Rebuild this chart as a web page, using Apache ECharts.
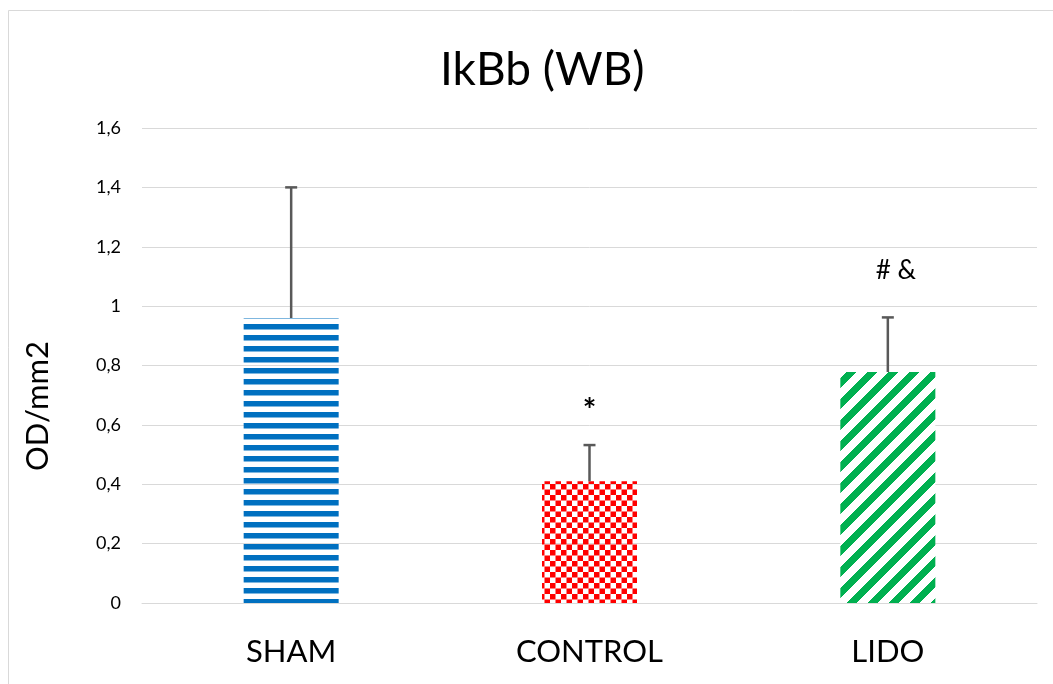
<!DOCTYPE html>
<html>
<head>
<meta charset="utf-8">
<script src="https://cdn.jsdelivr.net/npm/echarts@6/dist/echarts.min.js"></script>
<style>
  html, body { margin: 0; padding: 0; background: #fff; }
  #chart { width: 1053px; height: 684px; }
</style>
</head>
<body>
<div id="chart"></div>
<script>
// Groups, means and upper error (mean + SD)
const categories = ['SHAM', 'CONTROL', 'LIDO'];
const means = [0.96, 0.41, 0.778];
const upperErrors = [1.40, 0.532, 0.962];
// Significance marks and the level they sit at
const marks = ['', '*', '# &'];
const markLevels = [null, 0.66, 1.12];
const yTicks = [0, 0.2, 0.4, 0.6, 0.8, 1.0, 1.2, 1.4, 1.6];

const FONT = 'Lato, "Open Sans", sans-serif';

// Fill patterns for the bars
function stripesPattern(color) {
  const c = document.createElement('canvas');
  c.width = 11; c.height = 11;
  const g = c.getContext('2d');
  g.fillStyle = color;
  g.fillRect(0, 5, 11, 5.5);
  return c;
}
function checkerPattern(color) {
  const c = document.createElement('canvas');
  c.width = 11; c.height = 11;
  const g = c.getContext('2d');
  g.fillStyle = color;
  g.fillRect(0, 0, 5.5, 5.5);
  g.fillRect(5.5, 5.5, 5.5, 5.5);
  return c;
}
function diagonalPattern(r, gr, b) {
  const P = 21, W = 10;
  const c = document.createElement('canvas');
  c.width = P; c.height = P;
  const g = c.getContext('2d');
  const img = g.createImageData(P, P);
  for (let y = 0; y < P; y++) {
    for (let x = 0; x < P; x++) {
      const t = (x + y) % P;
      const i = (y * P + x) * 4;
      if (t < W) {
        img.data[i] = r; img.data[i + 1] = gr; img.data[i + 2] = b; img.data[i + 3] = 255;
      } else {
        img.data[i] = 255; img.data[i + 1] = 255; img.data[i + 2] = 255; img.data[i + 3] = 255;
      }
    }
  }
  g.putImageData(img, 0, 0);
  return c;
}

const fills = [
  { image: stripesPattern('#0070C0'), repeat: 'repeat' },
  { image: checkerPattern('#FF0000'), repeat: 'repeat' },
  { image: diagonalPattern(0, 176, 80), repeat: 'repeat' }
];

const chart = echarts.init(document.getElementById('chart'), null, { renderer: 'canvas' });

const option = {
  backgroundColor: '#fff',
  animation: false,
  title: {
    text: 'IkBb (WB)',
    left: 435,
    top: 42,
    textStyle: { fontFamily: FONT, fontSize: 46, fontWeight: 'normal', color: '#000' }
  },
  graphic: [
    {
      type: 'rect',
      shape: { x: 8.5, y: 10.5, width: 1100, height: 700 },
      style: { fill: null, stroke: '#d9d9d9', lineWidth: 1 },
      silent: true
    },
    {
      type: 'text',
      x: 38, y: 406,
      rotation: Math.PI / 2,
      style: {
        text: 'OD/mm2',
        fontFamily: FONT, fontSize: 31, fill: '#000',
        align: 'center', verticalAlign: 'middle'
      }
    }
  ],
  grid: { left: 142, right: 16, top: 128, bottom: 81 },
  xAxis: {
    type: 'category',
    data: categories,
    axisLine: { show: true, lineStyle: { color: '#d9d9d9', width: 1 } },
    axisTick: { show: false },
    axisLabel: { fontFamily: FONT, fontSize: 31, color: '#000', margin: 33 }
  },
  yAxis: {
    type: 'value',
    min: 0, max: 1.6, interval: 0.2,
    axisLine: { show: false },
    axisTick: { show: false },
    splitLine: { lineStyle: { color: '#d9d9d9', width: 1 } },
    axisLabel: {
      fontFamily: FONT, fontSize: 18, color: '#000', margin: 21,
      formatter: v => {
        const t = yTicks.find(k => Math.abs(k - v) < 1e-9);
        const s = (t === undefined ? v : t);
        return (Math.round(s * 10) / 10).toString().replace('.', ',');
      }
    }
  },
  series: [
    {
      type: 'bar',
      barWidth: 95,
      data: means.map((v, i) => ({ value: v, itemStyle: { color: fills[i] } })),
      z: 2
    },
    {
      type: 'custom',
      z: 3,
      data: categories.map((c, i) => [i, means[i], upperErrors[i], markLevels[i] == null ? 0 : markLevels[i]]),
      renderItem: function (params, api) {
        const i = api.value(0);
        const base = api.coord([i, api.value(1)]);
        const top = api.coord([i, api.value(2)]);
        const cap = 6;
        const children = [
          {
            type: 'line',
            shape: { x1: base[0], y1: base[1], x2: top[0], y2: top[1] },
            style: { stroke: '#595959', lineWidth: 2.5 }
          },
          {
            type: 'line',
            shape: { x1: top[0] - cap, y1: top[1], x2: top[0] + cap, y2: top[1] },
            style: { stroke: '#595959', lineWidth: 2.5 }
          }
        ];
        if (marks[i]) {
          const p = api.coord([i, api.value(3)]);
          const multi = marks[i].length > 1;
          children.push({
            type: 'text',
            x: p[0] + (multi ? 8 : 0),
            y: p[1] + (multi ? 0 : 5),
            style: {
              text: marks[i],
              fontFamily: FONT,
              fontSize: multi ? 26 : 32,
              fontWeight: multi ? 'normal' : 'bold',
              fill: '#000',
              align: 'center',
              verticalAlign: 'middle'
            }
          });
        }
        return { type: 'group', children: children };
      }
    }
  ]
};

chart.setOption(option);
</script>
</body>
</html>
